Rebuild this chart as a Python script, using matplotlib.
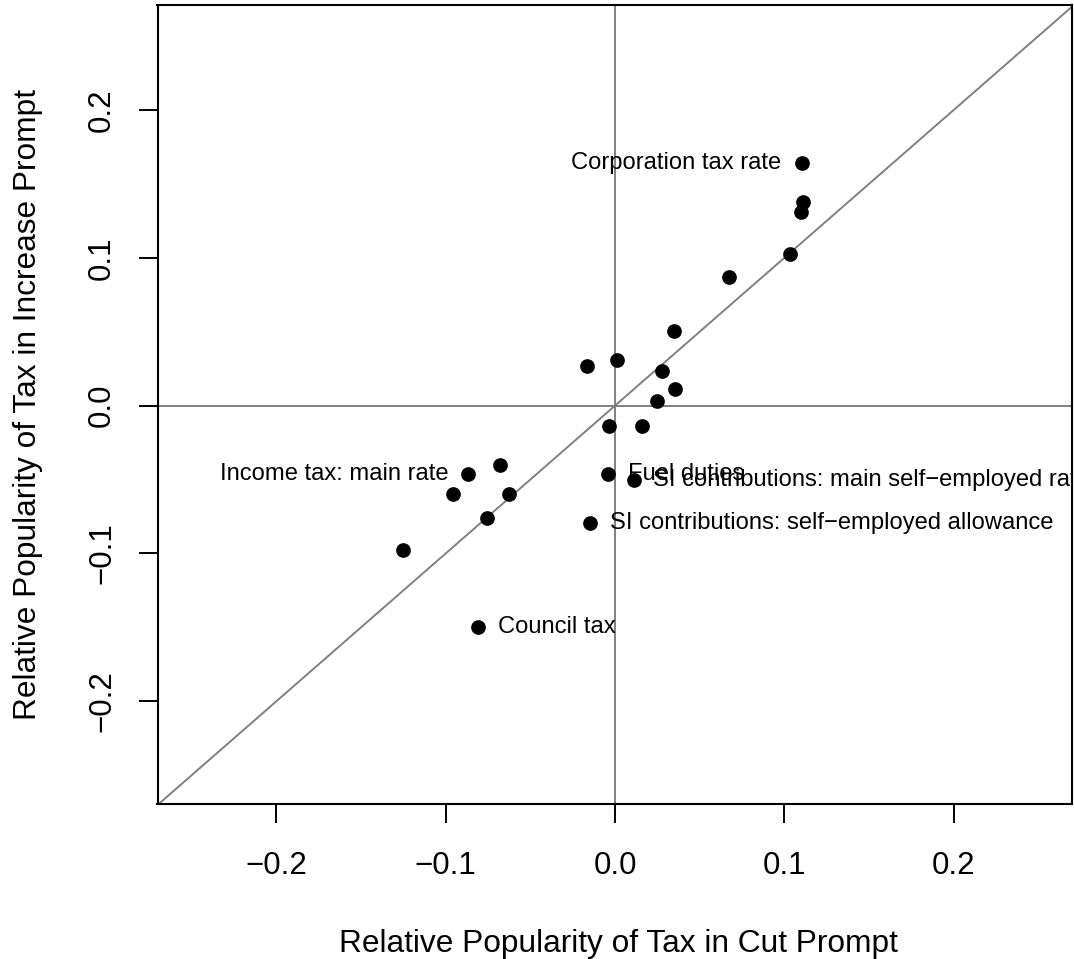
import matplotlib
matplotlib.use("Agg")
import matplotlib.pyplot as plt
import matplotlib.transforms as mtransforms

plt.rcParams['font.family'] = ['Liberation Sans', 'DejaVu Sans']

# relative popularity of each tax, cut prompt (x) vs increase prompt (y)
cut_prompt = [0.1103, 0.1111, 0.1101, 0.1032, 0.0674,
              0.0350, -0.0168, 0.0014, 0.0275, 0.0354, 0.0248,
              -0.0038, 0.0161,
              -0.0867, -0.0681, -0.0958, -0.0624, -0.0759,
              -0.0041, 0.0110, -0.0146,
              -0.1253, -0.0808]
increase_prompt = [0.1643, 0.1375, 0.1311, 0.1027, 0.0871,
                   0.0504, 0.0269, 0.0310, 0.0233, 0.0110, 0.0032,
                   -0.0137, -0.0141,
                   -0.0461, -0.0400, -0.0597, -0.0601, -0.0763,
                   -0.0463, -0.0506, -0.0793,
                   -0.0980, -0.1499]

# labelled taxes: index into the arrays above, text, side
label_index = [0, 13, 18, 19, 20, 22]
label_text = ["Corporation tax rate",
              "Income tax: main rate",
              "Fuel duties",
              "SI contributions: main self\u2212employed rate",
              "SI contributions: self\u2212employed allowance",
              "Council tax"]
label_side = ["left", "left", "right", "right", "right", "right"]

tick_values = [-0.2, -0.1, 0.0, 0.1, 0.2]
tick_labels = ["\u22120.2", "\u22120.1", "0.0", "0.1", "0.2"]

fig = plt.figure(figsize=(10.74, 9.59), dpi=100)
W, H = 1074, 959
left, right, top, bottom = 157.5, 1071.5, 5.5, 804
ax = fig.add_axes([left / W, (H - bottom) / H, (right - left) / W, (bottom - top) / H])

ax.set_xlim(-0.2703, 0.2697)
ax.set_ylim(-0.2696, 0.2708)

gray = "#808080"
ax.axhline(0, color=gray, lw=1.4, zorder=1)
ax.axvline(0, color=gray, lw=1.4, zorder=1)
ax.plot([-0.3, 0.3], [-0.3, 0.3], color=gray, lw=1.4, zorder=1)

ax.scatter(cut_prompt, increase_prompt, s=112, color="black", zorder=3, linewidths=0)

# labels sit beside their point and get clipped at the plot box, like the original
for i, txt, side in zip(label_index, label_text, label_side):
    dx = -14.5 if side == "left" else 14
    tr = mtransforms.offset_copy(ax.transData, fig=fig, x=dx, y=-4.3, units="points")
    ax.text(cut_prompt[i], increase_prompt[i], txt, transform=tr,
            ha="right" if side == "left" else "left", va="baseline",
            fontsize=17.1, clip_on=True, zorder=4)

ax.set_xticks(tick_values)
ax.set_xticklabels(tick_labels)
ax.set_yticks(tick_values)
ax.set_yticklabels(tick_labels, rotation=90, va="center")
ax.tick_params(axis="both", direction="out", length=14, width=1.4, labelsize=22.5)
ax.tick_params(axis="x", pad=19.5)
ax.tick_params(axis="y", pad=15)
for sp in ax.spines.values():
    sp.set_linewidth(1.5)

fig.text(618 / W, (H - 952) / H, "Relative Popularity of Tax in Cut Prompt",
         ha="center", va="baseline", fontsize=22.8)
fig.text(36 / W, (H - 405) / H, "Relative Popularity of Tax in Increase Prompt",
         ha="center", va="baseline", rotation=90, rotation_mode="anchor", fontsize=22.8)

fig.savefig("out.png", dpi=100)
